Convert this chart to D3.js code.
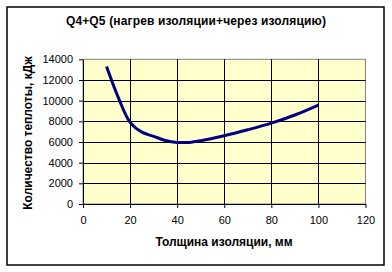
<!DOCTYPE html>
<html>
<head>
<meta charset="utf-8">
<script src="https://cdn.jsdelivr.net/npm/d3@7"></script>
<style>
body { margin: 0; background: #fff; }
text { font-family: "Liberation Sans", Arial, sans-serif; fill: #000; }
</style>
</head>
<body>
<div id="chart"></div>
<script>
var thickness = [10, 15, 20, 25, 30, 35, 40, 45, 50, 60, 70, 80, 90, 100],
	heat = [13300, 10300, 7900, 6950, 6550, 6150, 5960, 5960, 6120, 6600, 7180, 7820, 8610, 9570],
	xTicks = [0, 20, 40, 60, 80, 100, 120],
	yTicks = [0, 2000, 4000, 6000, 8000, 10000, 12000, 14000],
	title = "Q4+Q5 (нагрев изоляции+через изоляцию)",
	xTitle = "Толщина изоляции, мм",
	yTitle = "Количество теплоты, кДж";

var width = 392,
	height = 272,
	svg = d3.select('#chart').append('svg')
		.attr('width', width)
		.attr('height', height),

	x = d3.scaleLinear().domain([0, 120]).range([83, 365.5]),
	y = d3.scaleLinear().domain([0, 14000]).range([204, 59.3]);

// outer chart border
svg.append('rect')
	.attr('x', 7).attr('y', 7)
	.attr('width', 377).attr('height', 258)
	.style('fill', '#fff')
	.style('stroke', '#000')
	.style('stroke-width', 1.5);

// plot area
svg.append('rect')
	.attr('x', x(0)).attr('y', y(14000))
	.attr('width', x(120) - x(0)).attr('height', y(0) - y(14000))
	.style('fill', '#ffffcc')
	.style('stroke', '#808080')
	.style('stroke-width', 1);

// grid
svg.append('g').selectAll('line.h')
	.data(yTicks.slice(1, -1))
	.enter().append('line')
	.attr('x1', x(0)).attr('x2', x(120))
	.attr('y1', function(d) { return Math.round(y(d)) + 0.5; })
	.attr('y2', function(d) { return Math.round(y(d)) + 0.5; })
	.style('stroke', '#000');

svg.append('g').selectAll('line.v')
	.data(xTicks.slice(1, -1))
	.enter().append('line')
	.attr('y1', y(14000)).attr('y2', y(0))
	.attr('x1', function(d) { return Math.round(x(d)) + 0.5; })
	.attr('x2', function(d) { return Math.round(x(d)) + 0.5; })
	.style('stroke', '#000');

// axes
var xAxis = svg.append('g')
	.attr('transform', 'translate(0,' + y(0) + ')')
	.call(d3.axisBottom(x).tickValues(xTicks).tickFormat(d3.format('d'))
		.tickSize(4).tickPadding(8).tickSizeOuter(0));

var yAxis = svg.append('g')
	.attr('transform', 'translate(' + x(0) + ',0)')
	.call(d3.axisLeft(y).tickValues(yTicks).tickFormat(d3.format('d'))
		.tickSize(4).tickPadding(6).tickSizeOuter(0));

[xAxis, yAxis].forEach(function(a) {
	a.selectAll('path, line').style('stroke', '#000');
	a.selectAll('text').style('font-size', '11px').style('font-family', '"Liberation Sans", Arial, sans-serif');
});

// line
var line = d3.line()
	.x(function(d, i) { return x(thickness[i]); })
	.y(function(d) { return y(d); })
	.curve(d3.curveCatmullRom.alpha(0.5));

svg.append('path')
	.datum(heat)
	.attr('d', line)
	.style('fill', 'none')
	.style('stroke', '#000080')
	.style('stroke-width', 3);

// titles
svg.append('text')
	.attr('x', 196).attr('y', 25)
	.attr('text-anchor', 'middle')
	.style('font-size', '12px').style('font-weight', 'bold')
	.style('letter-spacing', '0.15px')
	.text(title);

svg.append('text')
	.attr('x', 224).attr('y', 246)
	.attr('text-anchor', 'middle')
	.style('font-size', '12px').style('font-weight', 'bold')
	.text(xTitle);

svg.append('text')
	.attr('transform', 'translate(32,133) rotate(-90)')
	.attr('text-anchor', 'middle')
	.style('font-size', '12px').style('font-weight', 'bold')
	.text(yTitle);
</script>
</body>
</html>
